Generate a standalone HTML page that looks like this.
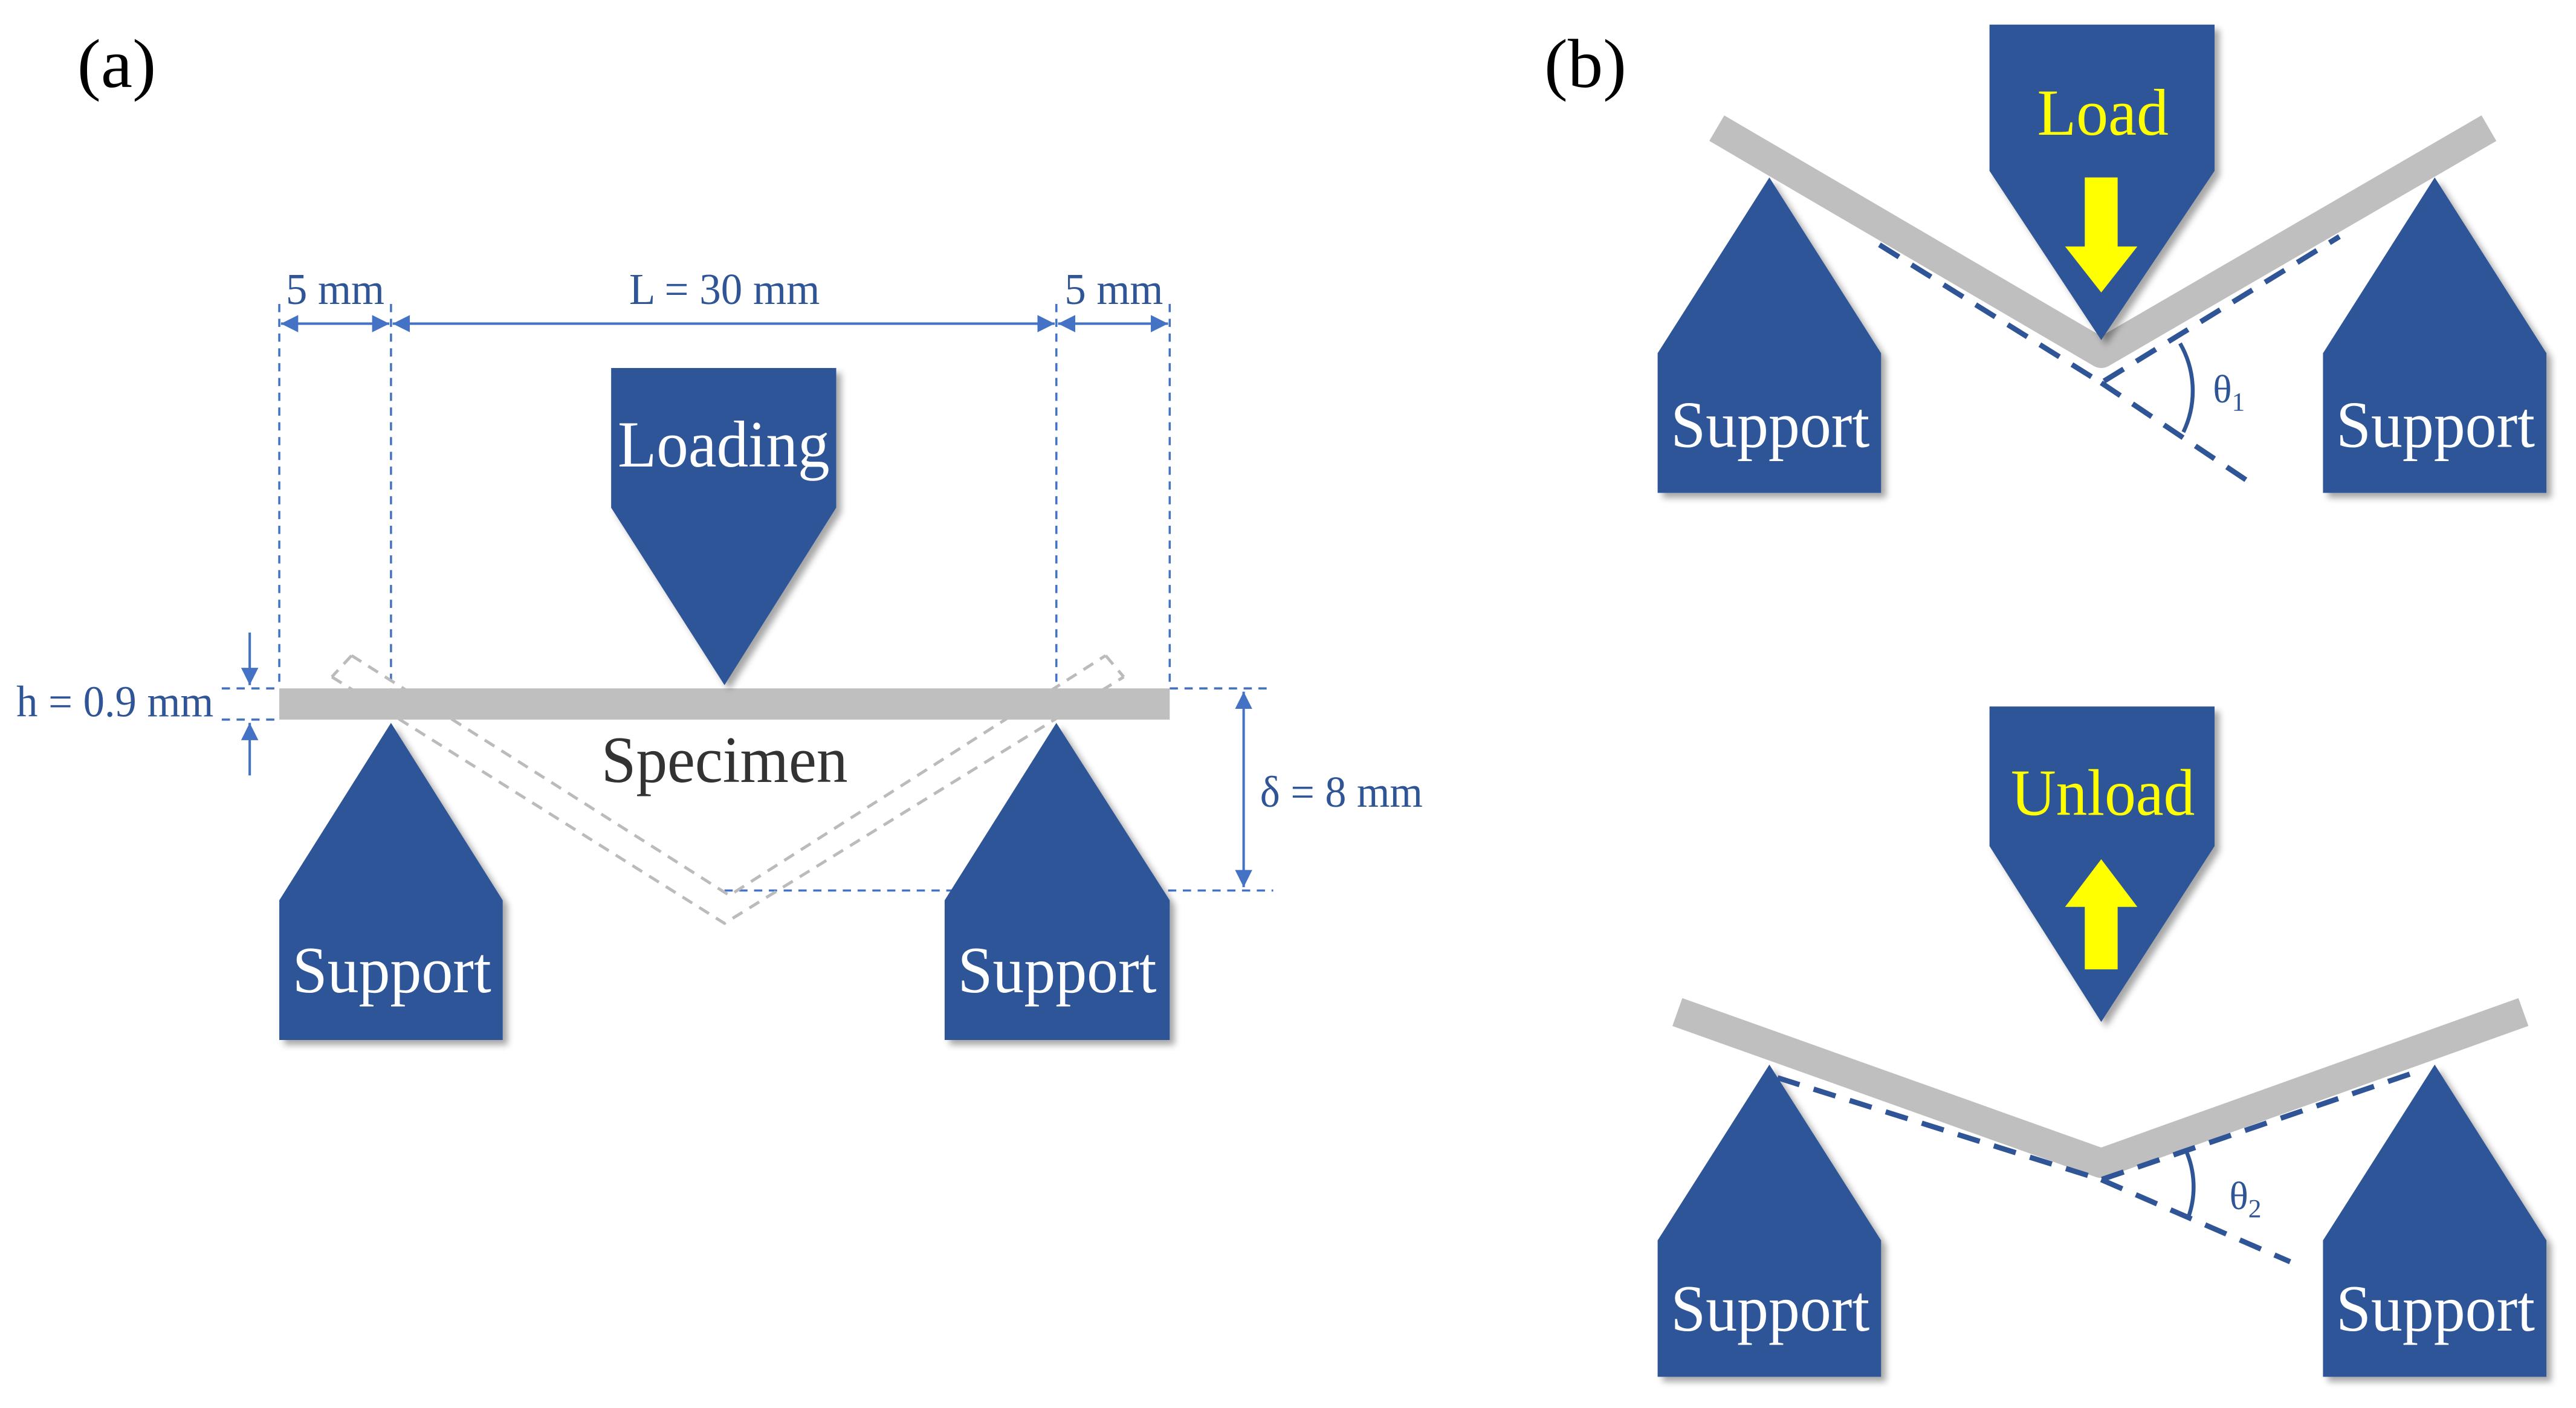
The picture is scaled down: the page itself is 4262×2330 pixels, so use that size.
<!DOCTYPE html>
<html><head><meta charset="utf-8"><style>
html,body{margin:0;padding:0;background:#fff;}
svg{display:block;}
</style></head><body>
<svg width="4262" height="2330" viewBox="0 0 1568 857" preserveAspectRatio="none" xmlns="http://www.w3.org/2000/svg" font-family="Liberation Serif, Times New Roman, serif">
<defs>
<filter id="sh" x="-20%" y="-20%" width="140%" height="140%">
<feDropShadow dx="3" dy="3" stdDeviation="2" flood-color="#000" flood-opacity="0.35"/>
</filter>
<marker id="ar" viewBox="0 0 10 10" refX="10" refY="5" markerWidth="7" markerHeight="7" orient="auto-start-reverse">
<path d="M0,0 L10,5 L0,10 z" fill="#4472C4"/>
</marker>
</defs>
<g fill="#000" font-family="Liberation Serif, serif"><text x="47" y="53" font-size="42" textLength="48" lengthAdjust="spacingAndGlyphs">(a)</text><text x="940" y="53" font-size="42" textLength="50" lengthAdjust="spacingAndGlyphs">(b)</text></g>

<!-- (a) dimension lines -->
<g stroke="#4472C4" stroke-width="1.3" stroke-dasharray="5,4" fill="none">
<line x1="170" y1="185" x2="170" y2="419"/>
<line x1="238" y1="185" x2="238" y2="430"/>
<line x1="643" y1="185" x2="643" y2="430"/>
<line x1="712" y1="185" x2="712" y2="419"/>
<line x1="135" y1="419" x2="170" y2="419"/>
<line x1="135" y1="438" x2="170" y2="438"/>
<line x1="712" y1="419" x2="775" y2="419"/>
<line x1="441" y1="542" x2="775" y2="542"/>
</g>
<g stroke="#4472C4" stroke-width="1.5" fill="none">
<line x1="171" y1="197" x2="237" y2="197" marker-start="url(#ar)" marker-end="url(#ar)"/>
<line x1="239" y1="197" x2="642" y2="197" marker-start="url(#ar)" marker-end="url(#ar)"/>
<line x1="644" y1="197" x2="711" y2="197" marker-start="url(#ar)" marker-end="url(#ar)"/>
<line x1="152" y1="385" x2="152" y2="417" marker-end="url(#ar)"/>
<line x1="152" y1="472" x2="152" y2="440" marker-end="url(#ar)"/>
<line x1="757" y1="421" x2="757" y2="540" marker-start="url(#ar)" marker-end="url(#ar)"/>
</g>
<g fill="#2F5597" font-size="27" font-family="Liberation Serif, serif" lengthAdjust="spacingAndGlyphs">
<text x="174" y="185" textLength="60" lengthAdjust="spacingAndGlyphs">5 mm</text>
<text x="383" y="185" textLength="116" lengthAdjust="spacingAndGlyphs">L = 30 mm</text>
<text x="648" y="185" textLength="60" lengthAdjust="spacingAndGlyphs">5 mm</text>
<text x="10" y="436" textLength="120" lengthAdjust="spacingAndGlyphs">h = 0.9 mm</text>
<text x="767" y="491" textLength="99" lengthAdjust="spacingAndGlyphs">δ = 8 mm</text>
</g>

<!-- ghost bent specimen -->
<g stroke="#BBBBBB" stroke-width="1.8" stroke-dasharray="7,5" fill="none">
<polyline points="214,399 444,545 673,399"/>
<polyline points="202,412 441,562 684,412"/>
<line x1="214" y1="399" x2="202" y2="412"/>
<line x1="673" y1="399" x2="684" y2="412"/>
</g>

<!-- specimen -->
<rect x="170" y="419" width="542" height="19" fill="#BFBFBF"/>
<text x="366" y="476" font-size="40" fill="#333" textLength="150" lengthAdjust="spacingAndGlyphs">Specimen</text>

<g fill="#2F5597" filter="url(#sh)">
<polygon points="372,224 509,224 509,309 441,417 372,309"/>
<polygon points="238,440 306,548 306,633 170,633 170,548"/>
<polygon points="643,440 712,548 712,633 575,633 575,548"/>
</g>
<g fill="#fff" font-size="40">
<text x="376" y="284" textLength="129" lengthAdjust="spacingAndGlyphs">Loading</text>
<text x="178" y="604" textLength="121" lengthAdjust="spacingAndGlyphs">Support</text>
<text x="583" y="604" textLength="121" lengthAdjust="spacingAndGlyphs">Support</text>
</g>

<!-- (b) top -->
<g fill="#2F5597" filter="url(#sh)">
<polygon points="1077,108 1145,215 1145,300 1009,300 1009,215"/>
<polygon points="1482,108 1550,215 1550,300 1414,300 1414,215"/>
</g>
<polyline points="1045,78 1279,215 1515,78" stroke="#BFBFBF" stroke-width="18" fill="none" stroke-linejoin="round"/>
<g fill="#2F5597" filter="url(#sh)">
<polygon points="1211,15 1348,15 1348,104 1279,207 1211,104"/>
</g>
<g stroke="#2F5597" stroke-width="3.2" stroke-dasharray="14,9" fill="none">
<polyline points="1144,149 1279,233 1424,144"/>
<line x1="1279" y1="233" x2="1370" y2="294"/>
</g>
<path d="M1327,209 A58,58 0 0 1 1329,263" stroke="#2F5597" stroke-width="2.4" fill="none"/>
<text x="1347" y="245" font-size="24" fill="#2F5597">θ<tspan font-size="16" dy="5">1</tspan></text>
<text x="1240" y="82" font-size="40" fill="#FFFF00" textLength="80" lengthAdjust="spacingAndGlyphs">Load</text>
<polygon points="1269,108 1289,108 1289,150 1301,150 1279,178 1257,150 1269,150" fill="#FFFF00"/>
<g fill="#fff" font-size="40">
<text x="1017" y="272" textLength="121" lengthAdjust="spacingAndGlyphs">Support</text>
<text x="1422" y="272" textLength="121" lengthAdjust="spacingAndGlyphs">Support</text>
</g>

<!-- (b) bottom -->
<g fill="#2F5597" filter="url(#sh)">
<polygon points="1211,430 1348,430 1348,515 1279,622 1211,515"/>
<polygon points="1077,648 1145,755 1145,838 1009,838 1009,755"/>
<polygon points="1482,648 1550,755 1550,838 1414,838 1414,755"/>
</g>
<polyline points="1021,616 1279,708 1536,616" stroke="#BFBFBF" stroke-width="18" fill="none" stroke-linejoin="round"/>
<g stroke="#2F5597" stroke-width="3.2" stroke-dasharray="14,9" fill="none">
<polyline points="1082,656 1279,718 1472,652"/>
<line x1="1279" y1="718" x2="1394" y2="768"/>
</g>
<path d="M1330,699 A55,55 0 0 1 1332,741" stroke="#2F5597" stroke-width="2.4" fill="none"/>
<text x="1357" y="736" font-size="24" fill="#2F5597">θ<tspan font-size="16" dy="5">2</tspan></text>
<text x="1224" y="496" font-size="40" fill="#FFFF00" textLength="112" lengthAdjust="spacingAndGlyphs">Unload</text>
<polygon points="1279,523 1301,552 1289,552 1289,590 1269,590 1269,552 1257,552" fill="#FFFF00"/>
<g fill="#fff" font-size="40">
<text x="1017" y="810" textLength="121" lengthAdjust="spacingAndGlyphs">Support</text>
<text x="1422" y="810" textLength="121" lengthAdjust="spacingAndGlyphs">Support</text>
</g>
</svg>
</body></html>
